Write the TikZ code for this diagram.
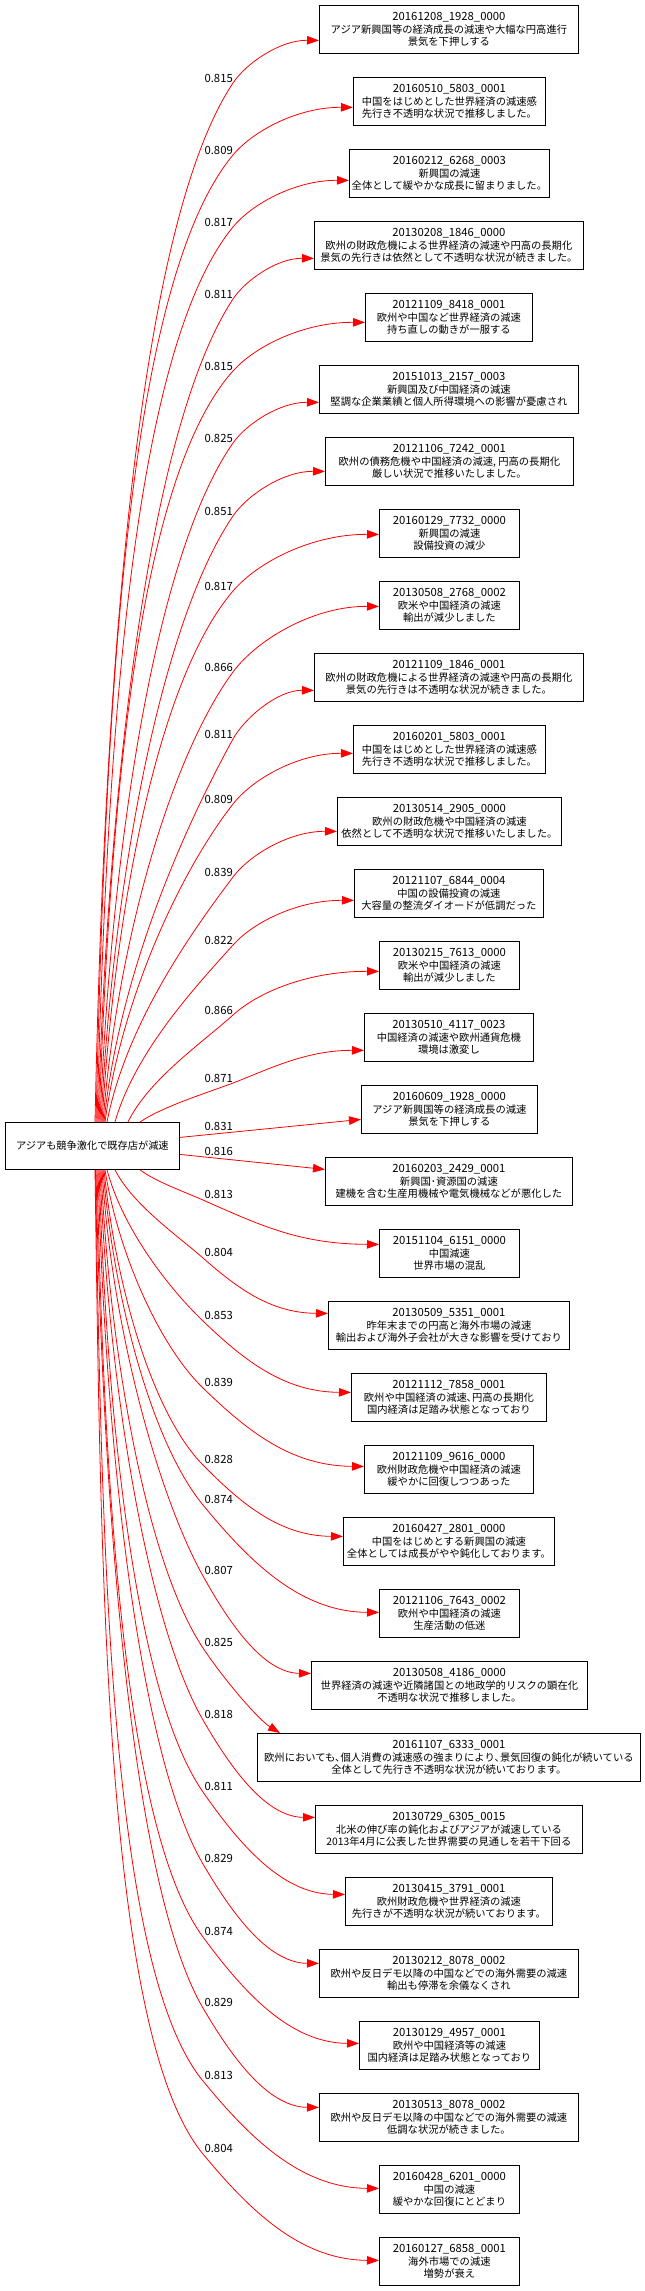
\documentclass[tikz,border=0pt]{standalone}
\usepackage{fontspec}
\setmainfont{Noto Sans CJK JP}
\usetikzlibrary{arrows.meta}
\newcommand\idl[1]{{\fontsize{11.3}{12.5}\selectfont #1}}
\tikzset{
  tbox/.style={draw=black, line width=0.8pt, inner sep=0pt, anchor=north west,
    minimum height=48pt, align=center, font=\fontsize{10.3}{12.5}\selectfont},
  elab/.style={inner sep=0pt, anchor=east, font=\fontsize{11.3}{12}\selectfont},
  edge/.style={draw=red, line width=0.8pt, -{Triangle[length=12pt,width=8.5pt,fill=red]}},
}
\begin{document}
\begin{tikzpicture}[x=1pt,y=-1pt]
\fill[white] (0,0) rectangle (645,2291);
\useasboundingbox (0,0) rectangle (645,2291);

\node[tbox, minimum width=174pt, minimum height=47pt, font=\fontsize{10.2}{12.5}\selectfont] (src) at (5,1122) {アジアも競争激化で既存店が減速};

\node[tbox, minimum width=259pt] (t1) at (319,5) {\idl{20161208\_1928\_0000}\\アジア新興国等の経済成長の減速や大幅な円高進行\\景気を下押しする};
\node[tbox, minimum width=192pt] (t2) at (353,77) {\idl{20160510\_5803\_0001}\\中国をはじめとした世界経済の減速感\\先行き不透明な状況で推移しました。};
\node[tbox, minimum width=200pt] (t3) at (349,149) {\idl{20160212\_6268\_0003}\\新興国の減速\\全体として緩やかな成長に留まりました。};
\node[tbox, minimum width=269pt] (t4) at (314,221) {\idl{20130208\_1846\_0000}\\欧州の財政危機による世界経済の減速や円高の長期化\\景気の先行きは依然として不透明な状況が続きました。};
\node[tbox, minimum width=167pt] (t5) at (365,293) {\idl{20121109\_8418\_0001}\\欧州や中国など世界経済の減速\\持ち直しの動きが一服する};
\node[tbox, minimum width=259pt] (t6) at (319,365) {\idl{20151013\_2157\_0003}\\新興国及び中国経済の減速\\堅調な企業業績と個人所得環境への影響が憂慮され};
\node[tbox, minimum width=248pt] (t7) at (325,437) {\idl{20121106\_7242\_0001}\\欧州の債務危機や中国経済の減速, 円高の長期化\\厳しい状況で推移いたしました。};
\node[tbox, minimum width=140pt] (t8) at (379,509) {\idl{20160129\_7732\_0000}\\新興国の減速\\設備投資の減少};
\node[tbox, minimum width=140pt] (t9) at (379,581) {\idl{20130508\_2768\_0002}\\欧米や中国経済の減速\\輸出が減少しました};
\node[tbox, minimum width=269pt] (t10) at (314,653) {\idl{20121109\_1846\_0001}\\欧州の財政危機による世界経済の減速や円高の長期化\\景気の先行きは不透明な状況が続きました。};
\node[tbox, minimum width=192pt] (t11) at (353,725) {\idl{20160201\_5803\_0001}\\中国をはじめとした世界経済の減速感\\先行き不透明な状況で推移しました。};
\node[tbox, minimum width=224pt] (t12) at (337,797) {\idl{20130514\_2905\_0000}\\欧州の財政危機や中国経済の減速\\依然として不透明な状況で推移いたしました。};
\node[tbox, minimum width=189pt] (t13) at (354,869) {\idl{20121107\_6844\_0004}\\中国の設備投資の減速\\大容量の整流ダイオードが低調だった};
\node[tbox, minimum width=140pt] (t14) at (379,941) {\idl{20130215\_7613\_0000}\\欧米や中国経済の減速\\輸出が減少しました};
\node[tbox, minimum width=169pt] (t15) at (364,1013) {\idl{20130510\_4117\_0023}\\中国経済の減速や欧州通貨危機\\環境は激変し};
\node[tbox, minimum width=176pt] (t16) at (361,1085) {\idl{20160609\_1928\_0000}\\アジア新興国等の経済成長の減速\\景気を下押しする};
\node[tbox, minimum width=247pt] (t17) at (325,1157) {\idl{20160203\_2429\_0001}\\新興国･資源国の減速\\建機を含む生産用機械や電気機械などが悪化した};
\node[tbox, minimum width=140pt] (t18) at (379,1229) {\idl{20151104\_6151\_0000}\\中国減速\\世界市場の混乱};
\node[tbox, minimum width=241pt] (t19) at (328,1301) {\idl{20130509\_5351\_0001}\\昨年末までの円高と海外市場の減速\\輸出および海外子会社が大きな影響を受けており};
\node[tbox, minimum width=195pt] (t20) at (351,1373) {\idl{20121112\_7858\_0001}\\欧州や中国経済の減速､円高の長期化\\国内経済は足踏み状態となっており};
\node[tbox, minimum width=169pt] (t21) at (364,1445) {\idl{20121109\_9616\_0000}\\欧州財政危機や中国経済の減速\\緩やかに回復しつつあった};
\node[tbox, minimum width=211pt] (t22) at (343,1517) {\idl{20160427\_2801\_0000}\\中国をはじめとする新興国の減速\\全体としては成長がやや鈍化しております。};
\node[tbox, minimum width=140pt] (t23) at (379,1589) {\idl{20121106\_7643\_0002}\\欧州や中国経済の減速\\生産活動の低迷};
\node[tbox, minimum width=276pt] (t24) at (311,1661) {\idl{20130508\_4186\_0000}\\世界経済の減速や近隣諸国との地政学的リスクの顕在化\\不透明な状況で推移しました。};
\node[tbox, minimum width=383pt] (t25) at (257,1733) {\idl{20161107\_6333\_0001}\\欧州においても､個人消費の減速感の強まりにより､景気回復の鈍化が続いている\\全体として先行き不透明な状況が続いております。};
\node[tbox, minimum width=267pt] (t26) at (315,1805) {\idl{20130729\_6305\_0015}\\北米の伸び率の鈍化およびアジアが減速している\\2013年4月に公表した世界需要の見通しを若干下回る};
\node[tbox, minimum width=207pt] (t27) at (345,1877) {\idl{20130415\_3791\_0001}\\欧州財政危機や世界経済の減速\\先行きが不透明な状況が続いております。};
\node[tbox, minimum width=259pt] (t28) at (319,1949) {\idl{20130212\_8078\_0002}\\欧州や反日デモ以降の中国などでの海外需要の減速\\輸出も停滞を余儀なくされ};
\node[tbox, minimum width=180pt] (t29) at (359,2021) {\idl{20130129\_4957\_0001}\\欧州や中国経済等の減速\\国内経済は足踏み状態となっており};
\node[tbox, minimum width=259pt] (t30) at (319,2093) {\idl{20130513\_8078\_0002}\\欧州や反日デモ以降の中国などでの海外需要の減速\\低調な状況が続きました。};
\node[tbox, minimum width=140pt] (t31) at (379,2165) {\idl{20160428\_6201\_0000}\\中国の減速\\緩やかな回復にとどまり};
\node[tbox, minimum width=140pt] (t32) at (379,2237) {\idl{20160127\_6858\_0001}\\海外市場での減速\\増勢が衰え};

% upper edges
\foreach \ei/\esx/\ely/\exl/\eoff/\elab in {1/95/78/319/11/0.815, 2/96/150/353/6/0.809, 3/97/222/349/7/0.817, 4/98/294/314/13/0.811, 5/99/366/365/5/0.815, 6/100/438/319/13/0.825, 7/101/511/325/10/0.851, 8/102/586/379/1/0.817, 9/103/667/379/1/0.866, 10/104/734/314/13/0.811, 11/105/799/353/4/0.809, 12/107/872/337/10/0.839, 13/115/940/354/7/0.822, 14/128/1010/379/6/0.866, 15/140/1078/364/13/0.871}{
  \pgfmathsetmacro\qwy{\ely+5}
  \pgfmathsetmacro\qey{29+72*(\ei-1)+\eoff}
  \pgfmathsetmacro\qdx{233-\esx}
  \pgfmathsetmacro\qdy{1122-\qwy}
  \pgfmathsetmacro\qr{\qdy/\qdx}
  \pgfmathsetmacro\qm{min(2.3,0.9*\qr,3*(\qwy-\qey)/(\exl-233))}
  \pgfmathsetmacro\qtn{sqrt(1+\qm*\qm)}
  \pgfmathsetmacro\qtx{1/\qtn}
  \pgfmathsetmacro\qtyy{\qm/\qtn}
  \pgfmathsetmacro\qdist{100*sqrt((\qdx/100)^2+(\qdy/100)^2)}
  \pgfmathsetmacro\qc{0.3/(1+0.5*\qr)}
  \pgfmathsetmacro\qax{\esx+\qc*\qdx}
  \pgfmathsetmacro\qay{1122-0.4*\qdy}
  \pgfmathsetmacro\qa{0.3*\qdist/(1+0.1*\qr)}
  \pgfmathsetmacro\qbx{233-\qa*\qtx}
  \pgfmathsetmacro\qby{\qwy+\qa*\qtyy}
  \pgfmathsetmacro\qdb{100*sqrt(((\exl-233)/100)^2+((\qey-\qwy)/100)^2)}
  \pgfmathsetmacro\qb{0.25*\qdb}
  \pgfmathsetmacro\qcx{233+\qb*\qtx}
  \pgfmathsetmacro\qcy{\qwy-\qb*\qtyy}
  \pgfmathsetmacro\qfx{\exl-0.45*(\exl-233)}
  \pgfmathsetmacro\qsh{\esx-5}
  \pgfmathsetmacro\qoy{0-(\eoff)}
  \node[elab] (l\ei) at (233,\ely) {\elab};
  \draw[edge] ([xshift=\qsh pt]src.north west) .. controls (\qax,\qay) and (\qbx,\qby) .. (233,\qwy) .. controls (\qcx,\qcy) and (\qfx,\qey) .. ([yshift=\qoy pt]t\ei.west);
}

% middle edges
\node[elab] (l16) at (233,1126) {0.831};
\draw[edge] ([yshift=8.5pt]src.east) -- ([yshift=-10pt]t16.west);
\node[elab] (l17) at (233,1151) {0.816};
\draw[edge] ([yshift=-8.5pt]src.east) -- ([yshift=12pt]t17.west);

% lower edges
\foreach \ei/\esx/\ely/\exl/\eoff/\elab in {18/140/1194/379/-9/0.813, 19/115/1252/328/-12/0.804, 20/107/1315/351/-5/0.853, 21/105/1382/364/-3/0.839, 22/104/1459/343/-5/0.828, 23/103/1499/379/-1/0.874, 24/102/1570/311/-12/0.807, 26/100/1714/315/-12/0.818, 27/99/1786/345/-7/0.811, 28/98/1858/319/-10/0.829, 29/97/1931/359/-2/0.874, 30/96/2002/319/-10/0.829, 31/95.5/2075/379/-1/0.813, 32/95/2148/379/-1/0.804}{
  \pgfmathsetmacro\qwy{\ely+6}
  \pgfmathsetmacro\qey{29+72*(\ei-1)+\eoff}
  \pgfmathsetmacro\qdx{203-\esx}
  \pgfmathsetmacro\qdy{\qwy-1169}
  \pgfmathsetmacro\qr{\qdy/\qdx}
  \pgfmathsetmacro\qm{min(2.3,0.9*\qr,2*(\qey-\qwy)/(\exl-203))}
  \pgfmathsetmacro\qtn{sqrt(1+\qm*\qm)}
  \pgfmathsetmacro\qtx{1/\qtn}
  \pgfmathsetmacro\qtyy{\qm/\qtn}
  \pgfmathsetmacro\qdist{100*sqrt((\qdx/100)^2+(\qdy/100)^2)}
  \pgfmathsetmacro\qc{0.3/(1+0.5*\qr)}
  \pgfmathsetmacro\qax{\esx+\qc*\qdx}
  \pgfmathsetmacro\qay{1169+0.4*\qdy}
  \pgfmathsetmacro\qa{0.3*\qdist/(1+0.1*\qr)}
  \pgfmathsetmacro\qbx{203-\qa*\qtx}
  \pgfmathsetmacro\qby{\qwy-\qa*\qtyy}
  \pgfmathsetmacro\qdb{100*sqrt(((\exl-203)/100)^2+((\qey-\qwy)/100)^2)}
  \pgfmathsetmacro\qb{0.35*\qdb}
  \pgfmathsetmacro\qcx{203+\qb*\qtx}
  \pgfmathsetmacro\qcy{\qwy+\qb*\qtyy}
  \pgfmathsetmacro\qfx{\exl-0.45*(\exl-203)}
  \pgfmathsetmacro\qsh{\esx-5}
  \pgfmathsetmacro\qoy{0-(\eoff)}
  \node[elab] (l\ei) at (233,\ely) {\elab};
  \draw[edge] ([xshift=\qsh pt]src.south west) .. controls (\qax,\qay) and (\qbx,\qby) .. (203,\qwy) .. controls (\qcx,\qcy) and (\qfx,\qey) .. ([yshift=\qoy pt]t\ei.west);
}

% edge to node 25 (enters from the top)
\node[elab] (l25) at (233,1642) {0.825};
\draw[edge] ([xshift=96pt]src.south west) .. controls (110.1,1360.6) and (147.6,1564.9) .. (203,1648) .. controls (225.2,1681.3) and (259,1720) .. ([xshift=23pt]t25.north west);
\end{tikzpicture}
\end{document}
